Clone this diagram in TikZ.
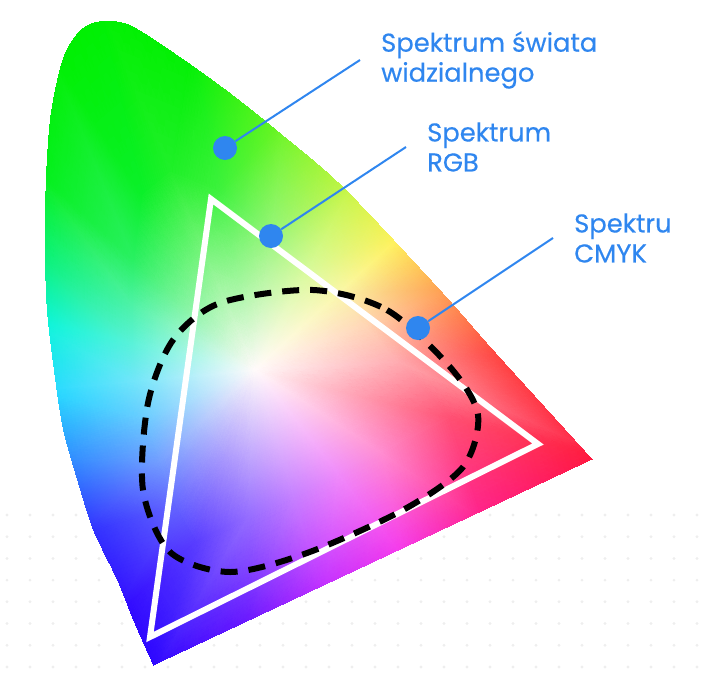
\documentclass[tikz,border=0pt]{standalone}
\usepackage{fontspec}
\usepackage{pgfplots}
\pgfplotsset{compat=1.18}
\newfontfamily\labelfont{Poppins}[FakeBold=0.4]
\definecolor{labelblue}{HTML}{2F86EF}
\definecolor{dotgray}{HTML}{EEEEEE}
\tikzset{
  marker/.style={circle, fill=labelblue, inner sep=0pt, minimum size=24pt},
  callout/.style={anchor=west, align=left, text=labelblue, inner xsep=21pt, inner ysep=0pt,
    font=\labelfont\fontsize{25.8}{30}\selectfont},
  leader/.style={labelblue, line width=2pt},
}
\begin{document}
\begin{tikzpicture}[x=1pt, y=-1pt]
    \useasboundingbox (0,0) rectangle (703,686);
    % faint dot grid
    \foreach \i in {0,...,30}
        \foreach \j in {0,...,7}
            \fill[dotgray] (7+23*\i, 515+21.7*\j) circle(1.6pt);
    % visible spectrum
    \begin{scope}
        \clip (153,665) -- (592,459) -- plot[smooth] coordinates {(592,459) (493,350) (440,290) (343,187) (280,133) (230,93) (180,57) (130,25) (100,21) (80,30) (63,57) (50,117) (45,200) (46,300) (55,380) (63,430) (77,480) (93,530) (117,580) (133,620) (153,665)} -- cycle;
        \begin{axis}[anchor=origin, at={(0,0)}, disabledatascaling, x=1pt, y=1pt, y dir=reverse,
            xmin=0, xmax=703, ymin=0, ymax=686, hide axis, clip=false]
        \addplot[patch, shader=interp, mesh/color input=explicit, point meta=explicit symbolic,
            table/row sep=\\, patch table={
            0 1 2\\ 1 22 23\\ 1 23 2\\
            0 2 3\\ 2 23 24\\ 2 24 3\\
            0 3 4\\ 3 24 25\\ 3 25 4\\
            0 4 5\\ 4 25 26\\ 4 26 5\\
            0 5 6\\ 5 26 27\\ 5 27 6\\
            0 6 7\\ 6 27 28\\ 6 28 7\\
            0 7 8\\ 7 28 29\\ 7 29 8\\
            0 8 9\\ 8 29 30\\ 8 30 9\\
            0 9 10\\ 9 30 31\\ 9 31 10\\
            0 10 11\\ 10 31 32\\ 10 32 11\\
            0 11 12\\ 11 32 33\\ 11 33 12\\
            0 12 13\\ 12 33 34\\ 12 34 13\\
            0 13 14\\ 13 34 35\\ 13 35 14\\
            0 14 15\\ 14 35 36\\ 14 36 15\\
            0 15 16\\ 15 36 37\\ 15 37 16\\
            0 16 17\\ 16 37 38\\ 16 38 17\\
            0 17 18\\ 17 38 39\\ 17 39 18\\
            0 18 19\\ 18 39 40\\ 18 40 19\\
            0 19 20\\ 19 40 41\\ 19 41 20\\
            0 20 21\\ 20 41 42\\ 20 42 21\\
            0 21 1\\ 21 42 22\\ 21 22 1\\
            }]
        table[meta=c] {
            x y c\\
            255 370 1,0.98,0.98\\
            170 171 0.12,0.94,0.16\\
            219 191 0.24,0.95,0.24\\
            272 231 0.59,0.96,0.47\\
            310 266 0.84,0.98,0.59\\
            338 294 0.98,0.97,0.67\\
            365 325 1,0.84,0.71\\
            398 362 1,0.67,0.69\\
            450 418 1,0.31,0.45\\
            381 453 1,0.55,0.82\\
            337 473 0.94,0.55,0.98\\
            293 494 0.78,0.51,1\\
            249 515 0.59,0.43,1\\
            196 541 0.35,0.24,1\\
            176 507 0.39,0.39,1\\
            159 461 0.45,0.62,1\\
            145 418 0.42,0.8,1\\
            136 381 0.45,0.9,0.98\\
            132 343 0.35,0.95,0.85\\
            132 304 0.3,0.95,0.65\\
            134 259 0.16,0.94,0.38\\
            142 194 0.04,0.94,0.16\\
            100 8 0,0.94,0\\
            190 45 0,0.94,0\\
            285 118 0.43,0.96,0.12\\
            355 180 0.78,0.96,0.24\\
            405 232 1,0.94,0.31\\
            455 288 1,0.59,0.27\\
            515 355 1,0.2,0.18\\
            610 458 1,0.08,0.22\\
            484 521 1,0.12,0.55\\
            404 558 0.96,0.2,0.92\\
            324 596 0.75,0.16,1\\
            244 633 0.39,0.06,1\\
            148 680 0.16,0,1\\
            112 620 0.16,0,1\\
            80 535 0.16,0.16,1\\
            55 458 0.15,0.55,1\\
            38 390 0.1,0.85,1\\
            32 320 0,0.96,0.85\\
            32 250 0,0.95,0.45\\
            35 168 0,0.94,0.08\\
            50 50 0,0.94,0\\
        };
        \end{axis}
    \end{scope}
    % RGB triangle
    \draw[white, line width=6pt, line join=miter] (211,199) -- (538,444) -- (150,637) -- cycle;
    % CMYK range
    \draw[black, line width=6pt, dash pattern=on 17pt off 11pt] plot[smooth cycle] coordinates {(313,290) (387,310) (450,367) (478,415) (463,467) (403,510) (307,553) (230,572) (170,552) (143,490) (148,403) (173,340) (220,303)};
    % labels
    \node[marker] (dot1) at (225,148) {};
    \node[marker] (dot2) at (271,236) {};
    \node[marker] (dot3) at (418,328) {};
    \node[callout] (lab1) at (360,60) {Spektrum świata\\widzialnego};
    \node[callout] (lab2) at (406,147) {Spektrum\\RGB};
    \node[callout] (lab3) at (553,238) {Spektru\\CMYK};
    \draw[leader] (dot1) -- (lab1.west);
    \draw[leader] (dot2) -- (lab2.west);
    \draw[leader] (dot3) -- (lab3.west);
\end{tikzpicture}
\end{document}
